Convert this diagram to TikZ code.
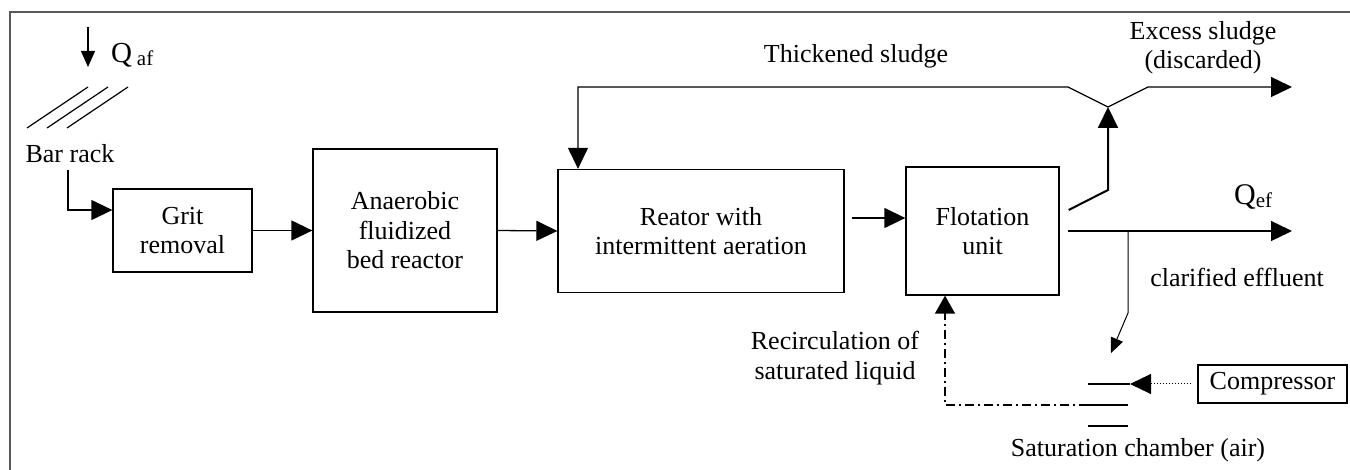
\documentclass[tikz,border=0pt]{standalone}
\usepackage{fontspec}
\setmainfont{Liberation Serif}
\usetikzlibrary{arrows.meta,calc}
\begin{document}
\begin{tikzpicture}[x=1pt,y=-1pt,
  every node/.style={font=\fontsize{26}{29.5}\selectfont, inner sep=0pt},
  box/.style={draw, line width=1.3pt, align=center},
  ln/.style={line width=1.3pt},
  arr/.style={ln, -{Triangle[length=21pt,width=20pt]}},
  sarr/.style={ln, -{Triangle[length=16pt,width=14pt]}},
  lbl/.style={align=center}]
\useasboundingbox (0,0) rectangle (1350,470);
% frame
\draw[line width=2pt, black!65] (10,470) -- (10,12) -- (1350,12);
% boxes
\node[box, minimum width=139pt, minimum height=83pt] (grit) at (182.5,230.5) {Grit\\removal};
\node[box, minimum width=184pt, minimum height=163pt] (anaer) at (405,230.5) {Anaerobic\\fluidized\\bed reactor};
\node[box, minimum width=286pt, minimum height=123pt] (reac) at (701,231) {Reator with\\intermittent aeration};
\node[box, minimum width=153pt, minimum height=128pt] (flot) at (982.5,231) {Flotation\\unit};
\node[box, minimum width=149pt, minimum height=38pt] (comp) at (1272.5,384) {Compressor};
% labels
\node[anchor=base west] (qaf) at (111,63) {\fontsize{29}{29}\selectfont Q\,\raisebox{-3pt}{\fontsize{21}{21}\selectfont af}};
\node[anchor=base west] (qef) at (1234,205) {\fontsize{30}{30}\selectfont Q\raisebox{-3pt}{\fontsize{21}{21}\selectfont ef}};
\node (bar) at (70,154) {Bar rack};
\node (thick) at (856,56) {Thickened sludge};
\node[lbl] (exc) at (1203,48) {Excess sludge\\(discarded)};
\node (clar) at (1237,277) {clarified effluent};
\node[lbl] (recirc) at (835,358) {Recirculation of\\saturated liquid};
\node (sat) at (1138,450) {Saturation chamber (air)};
% inflow
\coordinate (qa0) at (88,27);
\coordinate (qa1) at (88,67);
\draw[sarr] (qa0) -- (qa1);
\foreach \d in {0,20,40} \draw[line width=1.2pt] ({27+\d},128) -- ({88+\d},87);
\coordinate (brs) at (68,170);
\draw[arr] (brs) |- ([yshift=20.5pt]grit.west);
% main line
\draw[arr] (grit.east) -- (anaer.west);
\draw[arr] (anaer.east) -- (reac.west);
\draw[arr] ([shift={(7pt,13pt)}]reac.east) -- ([yshift=13pt]flot.west);
% sludge
\coordinate (jn) at (1108,107);
\coordinate (exs) at (1292,87);
\draw[arr] (jn) -- (1068,87) -| ([xshift=-123pt]reac.north);
\draw[arr] (jn) -- (1148,87) -- (exs);
\draw[line width=2pt, -{Triangle[length=21pt,width=20pt]}] ([shift={(9pt,21pt)}]flot.east) -- (1108,190) -- (jn);
% effluent
\coordinate (qefend) at (1292,231);
\draw[arr] ([xshift=8pt]flot.east) -- (qefend);
\coordinate (bt) at (1128,231);
\coordinate (btip) at (1111,353);
\draw[line width=1pt, -{Triangle[length=15pt,width=13pt]}] (bt) -- (1128,313) -- (btip);
% saturation chamber
\coordinate (c1) at (1130,384);
\draw[ln] (1088,384) -- (c1);
\draw[line width=1pt, dotted, -{Triangle[length=21pt,width=20pt]}] ([xshift=-6pt]comp.west) -- (c1);
\draw[ln] (1088,405) -- (1128,405);
\draw[ln] (1088,426) -- (1128,426);
\draw[ln, dash pattern=on 9pt off 4pt on 2pt off 4pt, -{Triangle[length=18pt,width=20pt]}] (1088,405) -- (945,405) -- ([xshift=-37.5pt]flot.south);
\end{tikzpicture}
\end{document}
